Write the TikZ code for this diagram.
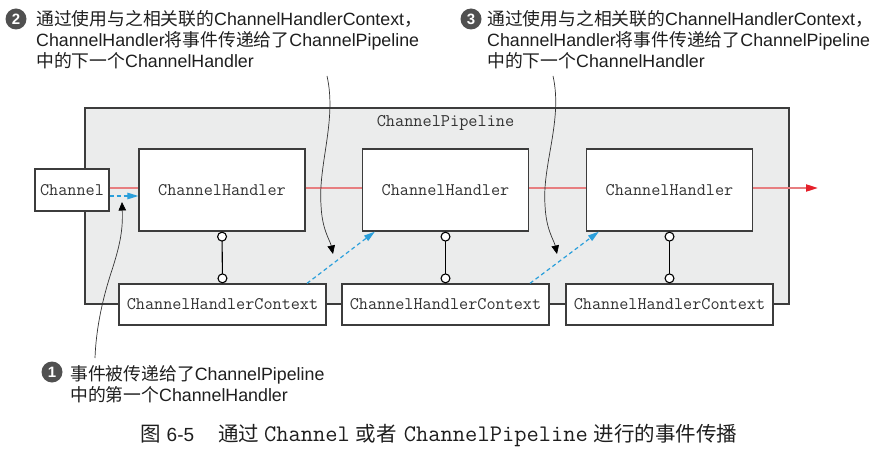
\documentclass[tikz,border=0pt]{standalone}
\usepackage{fontspec}
\usetikzlibrary{arrows.meta}
\newfontfamily\cjk{Noto Sans CJK SC}
\newfontfamily\lat{Liberation Sans}
\newcommand\mymono{\ttfamily}
\definecolor{pipefill}{HTML}{EBECEC}
\definecolor{boxline}{HTML}{3C3C3C}
\definecolor{redline}{HTML}{E77E80}
\definecolor{redtip}{HTML}{E5202A}
\definecolor{bluel}{HTML}{2A9FDB}
\definecolor{numfill}{HTML}{505050}
\definecolor{txt}{HTML}{1E1E1E}
\definecolor{boxtxt}{HTML}{333333}
\tikzset{
  pipebox/.style={draw=boxline, line width=1.2pt, fill=pipefill, inner sep=0pt,
    minimum width=704pt, minimum height=196pt},
  box/.style={draw=boxline, line width=1.3pt, fill=white, inner sep=0pt,
    text=boxtxt, font=\mymono\fontsize{17.7}{20}\selectfont},
  chbox/.style={box, minimum width=74pt, minimum height=42pt},
  hbox/.style={box, minimum width=166pt, minimum height=82pt},
  cbox/.style={box, minimum width=207pt, minimum height=41pt},
  redflow/.style={draw=redline, line width=2pt},
  redarrow/.style={redflow, -{Triangle[length=12pt,width=7pt,color=redtip]}},
  blueflow/.style={draw=bluel, line width=1.2pt, dash pattern=on 4pt off 3pt,
    -{Triangle[length=11pt,width=6.5pt,color=bluel]}},
  conn/.style={draw=black, line width=1.1pt,
    {Circle[length=10pt,width=10pt,fill=white]}-{Circle[length=10pt,width=10pt,fill=white]}},
  leader/.style={draw=black!80, line width=0.7pt,
    -{Triangle[length=8.5pt,width=7.5pt,color=black]}},
  num/.style={circle, fill=numfill, text=white, inner sep=0pt, minimum size=21pt,
    font=\lat\bfseries\fontsize{15}{15}\selectfont},
  callout/.style={align=left, inner sep=0pt, text=txt,
    font=\lat\fontsize{17.8}{21}\selectfont},
}
\begin{document}
\begin{tikzpicture}[x=1pt,y=-1pt]
\useasboundingbox (0,0) rectangle (880,449);

% pipeline
\node[pipebox] (pipe) at (437,206) {};
\node[font=\mymono\fontsize{17.8}{20}\selectfont, text=boxtxt, inner sep=0pt]
  (pipelabel) at (445.5,123) {ChannelPipeline};

% nodes
\node[chbox] (ch) at (72,190) {Channel};
\node[hbox] (h1) at (222,190) {ChannelHandler};
\node[hbox] (h2) at (445.5,190) {ChannelHandler};
\node[hbox] (h3) at (669.5,190) {ChannelHandler};
\node[cbox] (c1) at (222.5,304.5) {ChannelHandlerContext};
\node[cbox] (c2) at (445.5,304.5) {ChannelHandlerContext};
\node[cbox] (c3) at (669.5,304.5) {ChannelHandlerContext};
\coordinate (out) at (818,188);

% red flow
\draw[redflow] ([yshift=2pt]ch.east) -- ([yshift=2pt]h1.west);
\draw[redflow] ([yshift=2pt]h1.east) -- ([yshift=2pt]h2.west);
\draw[redflow] ([yshift=2pt]h2.east) -- ([yshift=2pt]h3.west);
\draw[redarrow] ([yshift=2pt]h3.east) -- (out);

% blue dashed flow
\draw[blueflow] ([yshift=-6pt]ch.east) -- ([yshift=-6pt]h1.west);
\draw[blueflow] ([xshift=84.5pt]c1.north) -- ([xshift=13pt]h2.south west);
\draw[blueflow] ([xshift=84.5pt]c2.north) -- ([xshift=13pt]h3.south west);

% handler-context connectors
\draw[conn] (h1.south) -- (c1.north);
\draw[conn] (h2.south) -- (c2.north);
\draw[conn] (h3.south) -- (c3.north);

% callouts
\node[num] (n2) at (16,19) {2};
\node[callout, anchor=west] (t2) at (36,40)
  {{\cjk 通过使用与之相关联的}ChannelHandlerContext{\cjk ，}\\
   ChannelHandler{\cjk 将事件传递给了}ChannelPipeline\\
   {\cjk 中的下一个}ChannelHandler};
\node[num] (n3) at (471,19) {3};
\node[callout, anchor=west] (t3) at (487,40)
  {{\cjk 通过使用与之相关联的}ChannelHandlerContext{\cjk ，}\\
   ChannelHandler{\cjk 将事件传递给了}ChannelPipeline\\
   {\cjk 中的下一个}ChannelHandler};
\node[num] (n1) at (52,372) {1};
\node[callout, anchor=west] (t1) at (70,384)
  {{\cjk 事件被传递给了}ChannelPipeline\\
   {\cjk 中的第一个}ChannelHandler};

% leaders
\coordinate (l2s) at (327,76);
\coordinate (l2e) at (333,254);
\draw[leader] (l2s) .. controls (337,120) and (318,165) .. (321,205)
  .. controls (322,230) and (330,240) .. (l2e);
\coordinate (l3s) at (553,76);
\coordinate (l3e) at (557,254);
\draw[leader] (l3s) .. controls (563,120) and (542,165) .. (545,205)
  .. controls (546,230) and (554,240) .. (l3e);
\coordinate (l1s) at (95,358);
\coordinate (l1e) at (122,202);
\draw[leader] (l1s) .. controls (96,330) and (102,300) .. (112,270)
  .. controls (120,245) and (123,230) .. (l1e);

% caption
\node[anchor=west, inner sep=0pt, text=txt, font=\fontsize{20.5}{24}\selectfont]
  (cap) at (140,435)
  {{\cjk 图}\hspace{6pt}{\lat\fontsize{19}{24}\selectfont 6-5}\hspace{24pt}{\cjk 通过}\hspace{5pt}{\mymono\fontsize{23.8}{24}\selectfont Channel}\hspace{6pt}{\cjk 或者}\hspace{7pt}{\mymono\fontsize{23.8}{24}\selectfont ChannelPipeline}\hspace{6pt}{\cjk 进行的事件传播}};
\end{tikzpicture}
\end{document}
